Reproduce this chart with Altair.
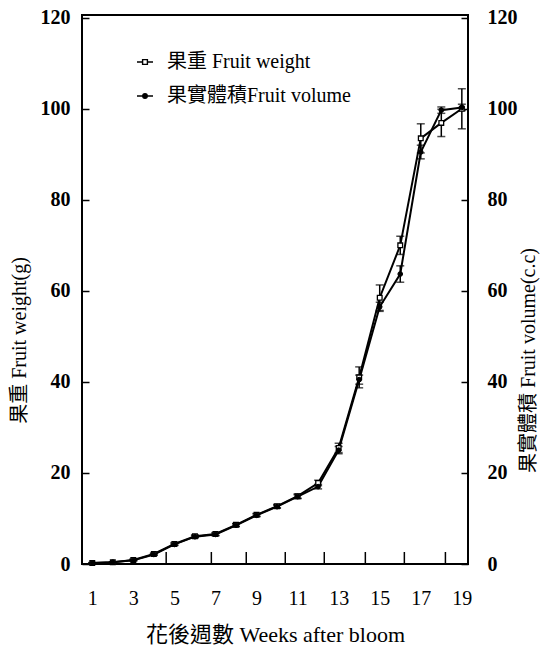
import altair as alt
import pandas as pd

weeks = list(range(1, 20))
weight = [0.2, 0.4, 0.9, 2.2, 4.4, 6.1, 6.6, 8.6, 10.8, 12.7, 14.9, 17.8, 25.5, 41.0, 58.5, 70.0, 93.5, 96.9, 100.0]
weight_err = [0.1, 0.1, 0.2, 0.2, 0.3, 0.3, 0.3, 0.3, 0.3, 0.4, 0.5, 0.6, 1.0, 2.3, 2.8, 2.0, 3.2, 3.0, 4.4]
volume = [0.2, 0.4, 0.8, 2.1, 4.3, 6.0, 6.5, 8.5, 10.7, 12.6, 14.8, 17.0, 25.0, 40.5, 56.5, 63.7, 90.5, 99.7, 100.3]
volume_err = [0.1, 0.1, 0.1, 0.2, 0.2, 0.2, 0.3, 0.3, 0.3, 0.3, 0.4, 0.5, 0.8, 1.0, 1.0, 1.8, 1.5, 0.7, 0.7]

series_names = ["果重 Fruit weight", "果實體積Fruit volume"]
x_label_values = [1, 3, 5, 7, 9, 11, 13, 15, 17, 19]
x_tick_marks = [4.6, 6.8, 8.5, 10.4, 12.3, 14.3, 16.2, 18.2]
y_values = [0, 20, 40, 60, 80, 100, 120]

rows = []
for w, v, e in zip(weeks, weight, weight_err):
    rows.append({"week": w, "value": v, "lo": v - e, "hi": v + e, "series": series_names[0]})
for w, v, e in zip(weeks, volume, volume_err):
    rows.append({"week": w, "value": v, "lo": v - e, "hi": v + e, "series": series_names[1]})
df = pd.DataFrame(rows)
ticks_df = pd.DataFrame({"w": x_tick_marks})

SERIF = "Liberation Serif, Noto Sans CJK TC"
W, H = 386, 549

x_scale = alt.Scale(domain=[0.5, 19.3], nice=False, zero=False)
y_scale = alt.Scale(domain=[0, 120.6], nice=False)

x_axis = alt.Axis(values=x_label_values, title="花後週數 Weeks after bloom", ticks=False,
                  domain=False, grid=False, labelPadding=24, labelFontSize=20,
                  labelFont=SERIF, labelColor="black", titleFont=SERIF, titleFontSize=22,
                  titleFontWeight="normal", titleColor="black", titlePadding=16)
x_enc = alt.X("week:Q", scale=x_scale, axis=x_axis)

left_axis = alt.Axis(orient="left", values=y_values, title="果重 Fruit weight(g)", offset=-7,
                     tickSize=7, tickWidth=1.5, tickColor="black", domain=False, grid=False,
                     labelPadding=12, labelFontSize=20, labelFontWeight="bold", labelFont=SERIF,
                     labelColor="black", titleFont=SERIF, titleFontSize=20, titleFontWeight="normal",
                     titleColor="black", titleAngle=270, titleBaseline="middle",
                     titleX=-70, titleY=325)
right_axis = alt.Axis(orient="right", values=y_values, title="果實體積 Fruit volume(c.c)", offset=-7,
                      tickSize=7, tickWidth=1.5, tickColor="black", domain=False, grid=False,
                      labelPadding=19, labelFontSize=20, labelFontWeight="bold", labelFont=SERIF,
                      labelColor="black", titleFont=SERIF, titleFontSize=20, titleFontWeight="normal",
                      titleColor="black", titleAngle=270, titleBaseline="middle",
                      titleX=67, titleY=345)

base = alt.Chart(df)
wdata = base.transform_filter(alt.datum.series == series_names[0])
vdata = base.transform_filter(alt.datum.series == series_names[1])

line_w = wdata.mark_line(color="black", strokeWidth=2).encode(
    x=x_enc, y=alt.Y("value:Q", scale=y_scale, axis=left_axis))
line_v = vdata.mark_line(color="black", strokeWidth=2).encode(
    x=x_enc, y=alt.Y("value:Q", scale=y_scale, axis=right_axis))

err_rule = base.mark_rule(color="black", strokeWidth=1.5).encode(
    x=x_enc, y=alt.Y("lo:Q", scale=y_scale, axis=None), y2="hi:Q")
err_lo = base.mark_tick(color="black", orient="horizontal", size=8, thickness=1.5).encode(
    x=x_enc, y=alt.Y("lo:Q", scale=y_scale, axis=None))
err_hi = base.mark_tick(color="black", orient="horizontal", size=8, thickness=1.5).encode(
    x=x_enc, y=alt.Y("hi:Q", scale=y_scale, axis=None))

pts_w = wdata.mark_point(shape="square", fill="white", stroke="black", strokeWidth=1.3,
                         size=22, opacity=1).encode(
    x=x_enc, y=alt.Y("value:Q", scale=y_scale, axis=None))
pts_v = vdata.mark_point(shape="circle", fill="black", stroke="black", strokeWidth=1,
                         size=22, opacity=1, filled=True).encode(
    x=x_enc, y=alt.Y("value:Q", scale=y_scale, axis=None))

sym_w = "M-1,0H-0.3M0.3,0H1M-0.3,-0.3H0.3V0.3H-0.3Z"
sym_v = "M-1,0H1M0,-0.28A0.28,0.28,0,1,1,0,0.28A0.28,0.28,0,1,1,0,-0.28Z"
leg = alt.Legend(title=None, orient="none", legendX=53, legendY=37, padding=0,
                 labelFont=SERIF, labelFontSize=20, labelColor="black", labelLimit=400,
                 labelOffset=12, rowPadding=14, symbolSize=256, symbolStrokeColor="black",
                 symbolStrokeWidth=1.4, symbolOpacity=1)
legend_layer = base.mark_point(opacity=0, strokeWidth=1.4).encode(
    x=x_enc, y=alt.Y("value:Q", scale=y_scale, axis=None),
    shape=alt.Shape("series:N", scale=alt.Scale(domain=series_names, range=[sym_w, sym_v]), legend=leg),
    fill=alt.Fill("series:N", scale=alt.Scale(domain=series_names, range=["white", "black"]), legend=leg),
    stroke=alt.Stroke("series:N", scale=alt.Scale(domain=series_names, range=["black", "black"]), legend=leg),
)

xticks = alt.Chart(ticks_df).mark_rule(color="black", strokeWidth=1.5).encode(
    x=alt.X("w:Q", scale=x_scale, axis=x_axis), y=alt.value(H), y2=alt.value(H - 12))

chart = alt.layer(line_w, line_v, err_rule, err_lo, err_hi, pts_w, pts_v, legend_layer, xticks).resolve_axis(
    y="independent"
).properties(
    width=W, height=H,
    autosize=alt.AutoSizeParams(type="none"),
    padding={"left": 82, "top": 15, "right": 72, "bottom": 89},
    background="white",
).configure_view(stroke="black", strokeWidth=2)

chart.save("out.html", embed_options={"renderer": "svg", "actions": False})
